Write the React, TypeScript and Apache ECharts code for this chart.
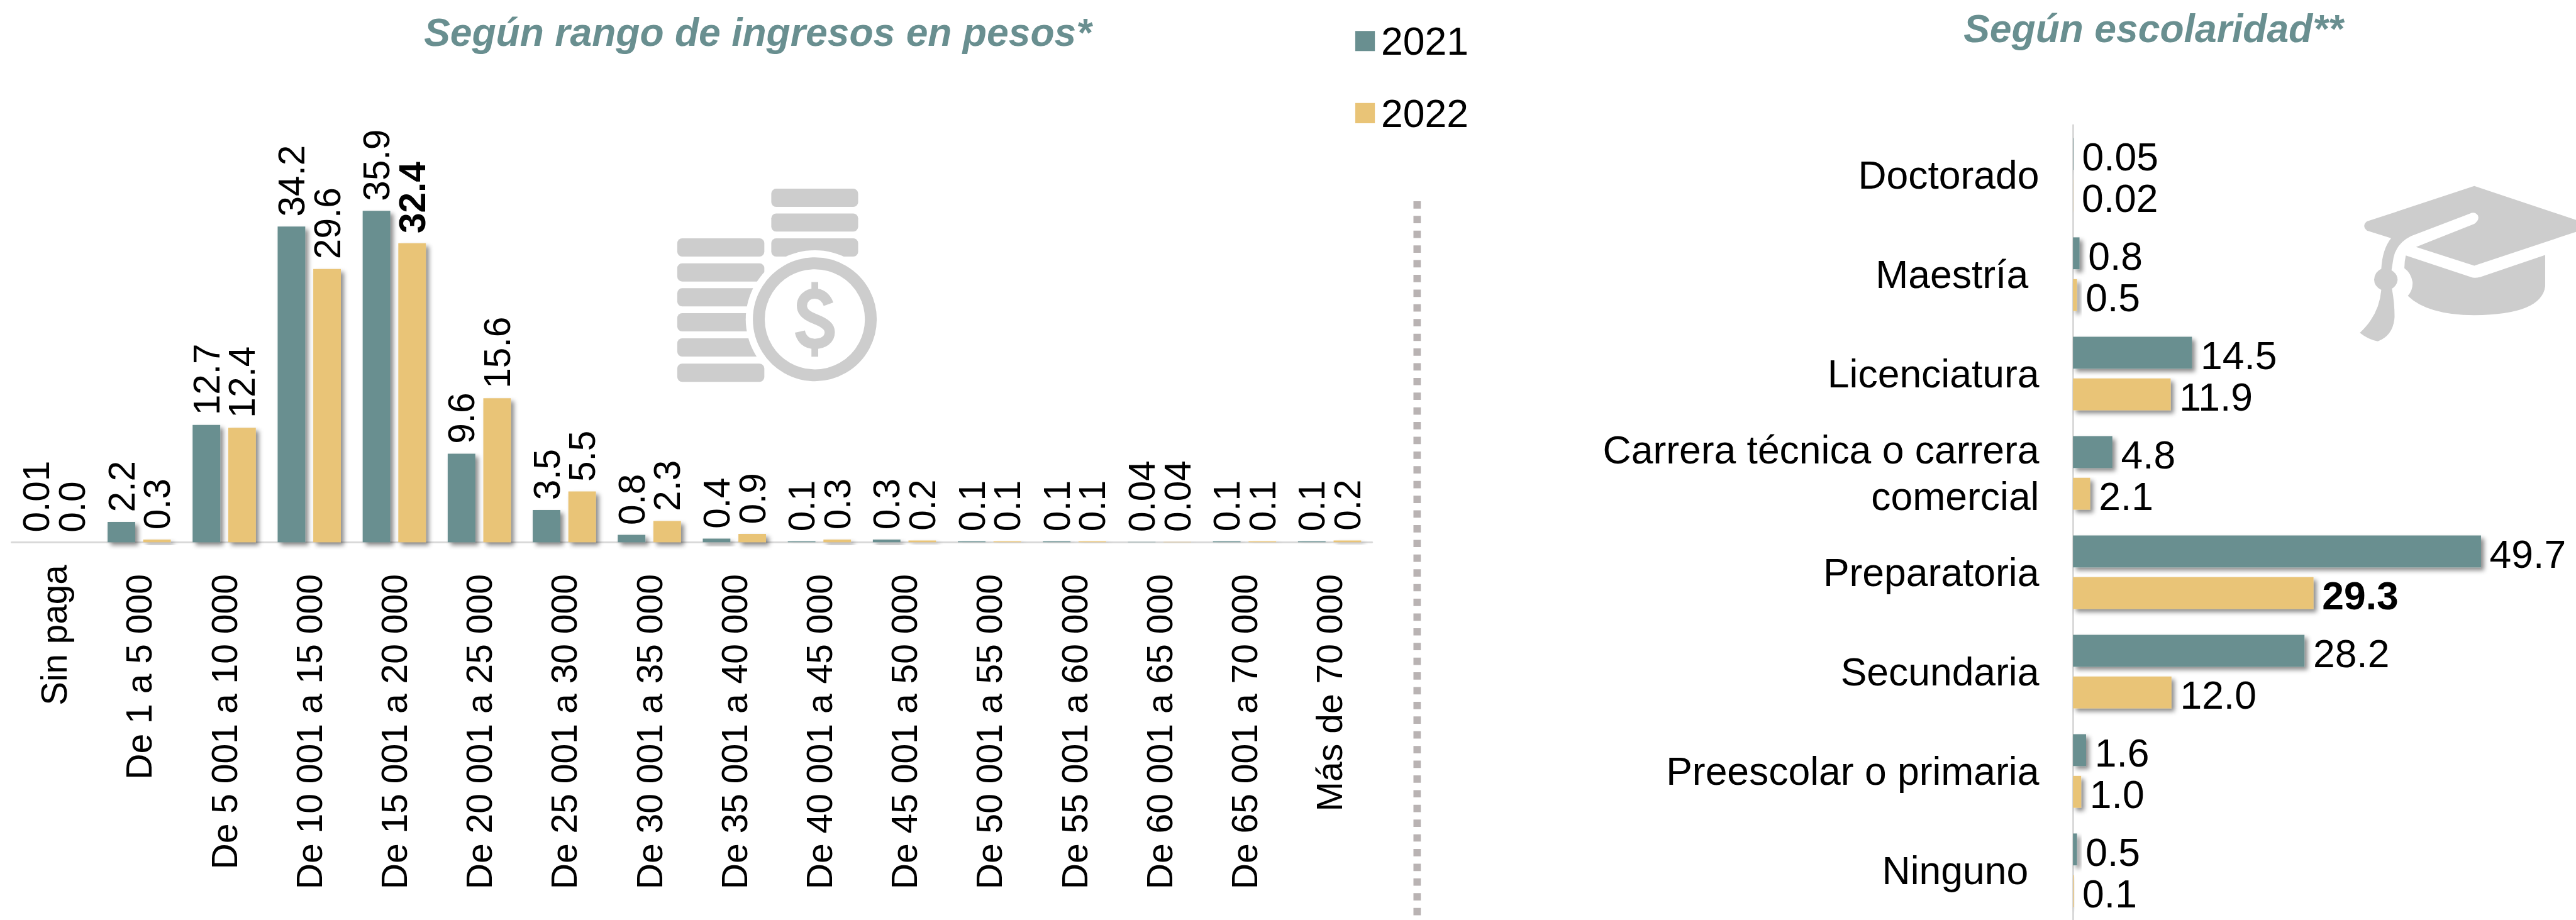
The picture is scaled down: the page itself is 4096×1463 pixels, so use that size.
import React, { useEffect, useRef } from "react";
import * as echarts from "echarts";

const S = 4096 / 4199;
const px = (v: number) => v * S;

const YEARS = ["2021", "2022"];
const TEAL = "#698F90";
const GOLD = "#E9C477";
const ICON = "#CDCDCD";

const incomeCategories = [
  "Sin paga", "De 1 a 5 000", "De 5 001 a 10 000", "De 10 001 a 15 000", "De 15 001 a 20 000",
  "De 20 001 a 25 000", "De 25 001 a 30 000", "De 30 001 a 35 000", "De 35 001 a 40 000",
  "De 40 001 a 45 000", "De 45 001 a 50 000", "De 50 001 a 55 000", "De 55 001 a 60 000",
  "De 60 001 a 65 000", "De 65 001 a 70 000", "Más de 70 000",
];
const income2021 = ["0.01", "2.2", "12.7", "34.2", "35.9", "9.6", "3.5", "0.8", "0.4", "0.1", "0.3", "0.1", "0.1", "0.04", "0.1", "0.1"];
const income2022 = ["0.0", "0.3", "12.4", "29.6", "32.4", "15.6", "5.5", "2.3", "0.9", "0.3", "0.2", "0.1", "0.1", "0.04", "0.1", "0.2"];

const schoolCategories = [
  "Doctorado", "Maestría ", "Licenciatura", "Carrera técnica o carrera\ncomercial",
  "Preparatoria", "Secundaria", "Preescolar o primaria", "Ninguno ",
];
const school2021 = ["0.05", "0.8", "14.5", "4.8", "49.7", "28.2", "1.6", "0.5"];
const school2022 = ["0.02", "0.5", "11.9", "2.1", "29.3", "12.0", "1.0", "0.1"];

const highlightIncome2022 = "32.4";
const highlightSchool2022 = "29.3";

const TITLE_LEFT = "Según rango de ingresos en pesos*";
const TITLE_RIGHT = "Según escolaridad**";

const FONT = "Liberation Sans";
const FS = px(60);
const FS_AXIS = px(58.5);
const FS_BIG = px(64);

const HAT = "M850 160 L1390 340 Q1405 355 1390 370 L850 550 L565 458 L850 345 Q878 325 867 303 Q852 283 828 295 L540 405 Q470 440 455 510 L445 572 Q475 590 475 620 Q470 650 447 662 Q460 730 460 800 Q455 890 378 920 Q330 910 290 878 Q385 790 395 668 Q360 650 360 618 Q362 580 395 565 Q400 470 443 415 L325 378 Q298 355 325 333 Z M515 500 L835 606 Q850 612 880 605 L1197 497 L1197 650 Q1180 790 850 792 Q620 790 525 697 Q550 670 548 630 Q540 585 508 562 Q508 530 515 500 Z";
const DOLLAR_S = "M902 738 C888 700 862 686 835 686 C795 686 772 715 772 745 C772 780 800 796 840 812 C885 830 908 848 908 875 C908 910 878 932 835 932 C795 932 770 910 762 872";
const DOLLAR_BARS = "M835 630 L835 690 M835 930 L835 995";
echarts.graphic.registerShape("hatIcon", echarts.graphic.extendPath(HAT, {}));
echarts.graphic.registerShape("dollarS", echarts.graphic.extendPath(DOLLAR_S, {}));
echarts.graphic.registerShape("dollarBars", echarts.graphic.extendPath(DOLLAR_BARS, {}));

const toData = (labels: string[], highlight?: string) =>
  labels.map((l) => ({
    value: parseFloat(l),
    label: { formatter: l, fontWeight: l === highlight ? ("bold" as const) : ("normal" as const) },
  }));

const shadow = {
  shadowColor: "rgba(0,0,0,0.45)",
  shadowBlur: px(8),
  shadowOffsetX: px(5),
  shadowOffsetY: px(5),
};

const colLabel = {
  show: true,
  position: "top" as const,
  rotate: 90,
  align: "left" as const,
  verticalAlign: "middle" as const,
  distance: px(16),
  fontFamily: FONT,
  fontSize: FS,
  color: "#000",
};
const barLabel = {
  show: true,
  position: "right" as const,
  distance: px(14),
  offset: [0, px(4)],
  fontFamily: FONT,
  fontSize: FS_BIG,
  color: "#000",
};

function coinIcon() {
  const rr = (x: number, y: number, w: number, h: number) => ({
    type: "rect",
    shape: { x, y, width: w, height: h, r: 24 },
    style: { fill: ICON },
  });
  const left = [416, 538, 660, 782, 905, 1029].map((y) => rr(162, y, 426, 89));
  const right = [173, 294, 416].map((y) => rr(622, y, 425, 89));
  return {
    type: "group",
    x: px(1050),
    y: px(250),
    scaleX: S / 3,
    scaleY: S / 3,
    silent: true,
    children: [
      ...left,
      ...right,
      { type: "circle", shape: { cx: 835, cy: 812, r: 338 }, style: { fill: "#fff" } },
      { type: "circle", shape: { cx: 835, cy: 812, r: 274 }, style: { fill: "none", stroke: ICON, lineWidth: 58 } },
      { type: "dollarS", style: { fill: "none", stroke: ICON, lineWidth: 50 } },
      { type: "dollarBars", style: { fill: "none", stroke: ICON, lineWidth: 33 } },
    ],
  };
}

export default function App() {
  const ref = useRef<HTMLDivElement>(null);
  useEffect(() => {
    document.body.style.margin = "0";
    document.body.style.overflow = "hidden";
    const chart = echarts.init(ref.current!, undefined, { renderer: "svg" });
    const leftBand = 138.6;
    const rightBand = 162.5;
    chart.setOption({
      animation: false,
      backgroundColor: "#fff",
      textStyle: { fontFamily: FONT },
      legend: {
        orient: "vertical",
        left: px(2204),
        top: px(30),
        data: YEARS,
        icon: "rect",
        itemWidth: px(32),
        itemHeight: px(33),
        itemGap: px(54),
        itemStyle: { shadowBlur: 0, shadowOffsetX: 0, shadowOffsetY: 0, shadowColor: "transparent" },
        textStyle: { fontFamily: FONT, fontSize: FS_BIG, color: "#000", padding: [0, 0, 0, px(5)] },
        selectedMode: false,
      },
      title: [
        {
          text: TITLE_LEFT,
          left: px(1230),
          top: px(15),
          textAlign: "center",
          textStyle: { fontFamily: FONT, fontSize: FS_BIG, fontWeight: "bold", fontStyle: "italic", color: TEAL },
        },
        {
          text: TITLE_RIGHT,
          left: px(3505),
          top: px(9),
          textAlign: "center",
          textStyle: { fontFamily: FONT, fontSize: FS_BIG, fontWeight: "bold", fontStyle: "italic", color: TEAL },
        },
      ],
      grid: [
        { left: px(19), top: px(282), width: px(leftBand * 16), height: px(602), containLabel: false },
        { left: px(3379), top: px(204), width: px(803), height: px(rightBand * 8), containLabel: false },
      ],
      xAxis: [
        {
          type: "category",
          gridIndex: 0,
          data: incomeCategories.map((c, i) =>
            i === 0
              ? { value: c, textStyle: { fontSize: px(58) } }
              : { value: c, textStyle: { padding: [0, px(15), 0, 0] } }
          ),
          axisTick: { show: false },
          axisLine: { lineStyle: { color: "#D9D9D9", width: px(3) } },
          axisLabel: { interval: 0, rotate: 90, margin: px(37), fontFamily: FONT, fontSize: FS_AXIS, color: "#000" },
        },
        { type: "value", gridIndex: 1, min: 0, max: 60, show: false },
      ],
      yAxis: [
        { type: "value", gridIndex: 0, min: 0, max: 40, show: false },
        {
          type: "category",
          gridIndex: 1,
          inverse: true,
          data: schoolCategories,
          axisTick: { show: false },
          axisLine: { lineStyle: { color: "#D9D9D9", width: px(3) } },
          axisLabel: { interval: 0, margin: px(55), fontFamily: FONT, fontSize: FS_BIG, color: "#000", align: "right", lineHeight: px(75) },
        },
      ],
      series: [
        {
          name: YEARS[0], type: "bar", xAxisIndex: 0, yAxisIndex: 0, barWidth: px(45), barGap: "29%",
          itemStyle: { color: TEAL, ...shadow }, label: colLabel, data: toData(income2021),
        },
        {
          name: YEARS[1], type: "bar", xAxisIndex: 0, yAxisIndex: 0, barWidth: px(45), barGap: "29%",
          itemStyle: { color: GOLD, ...shadow }, label: colLabel, data: toData(income2022, highlightIncome2022),
        },
        {
          name: YEARS[0], type: "bar", xAxisIndex: 1, yAxisIndex: 1, barWidth: px(52), barGap: "31%",
          itemStyle: { color: TEAL, ...shadow }, label: barLabel, data: toData(school2021),
        },
        {
          name: YEARS[1], type: "bar", xAxisIndex: 1, yAxisIndex: 1, barWidth: px(52), barGap: "31%",
          itemStyle: { color: GOLD, ...shadow }, label: barLabel, data: toData(school2022, highlightSchool2022),
        },
      ],
      graphic: [
        {
          type: "line",
          silent: true,
          shape: { x1: px(2310), y1: px(328), x2: px(2310), y2: px(1500) },
          style: { stroke: "#B9B3B3", lineWidth: px(12), lineDash: [px(12), px(12)] },
        },
        coinIcon(),
        {
          type: "hatIcon",
          x: px(3750),
          y: px(250),
          scaleX: S / 3,
          scaleY: S / 3,
          silent: true,
          style: { fill: ICON },
        },
      ],
    });
    return () => chart.dispose();
  }, []);
  return <div ref={ref} style={{ width: 4096, height: 1463 }} />;
}
